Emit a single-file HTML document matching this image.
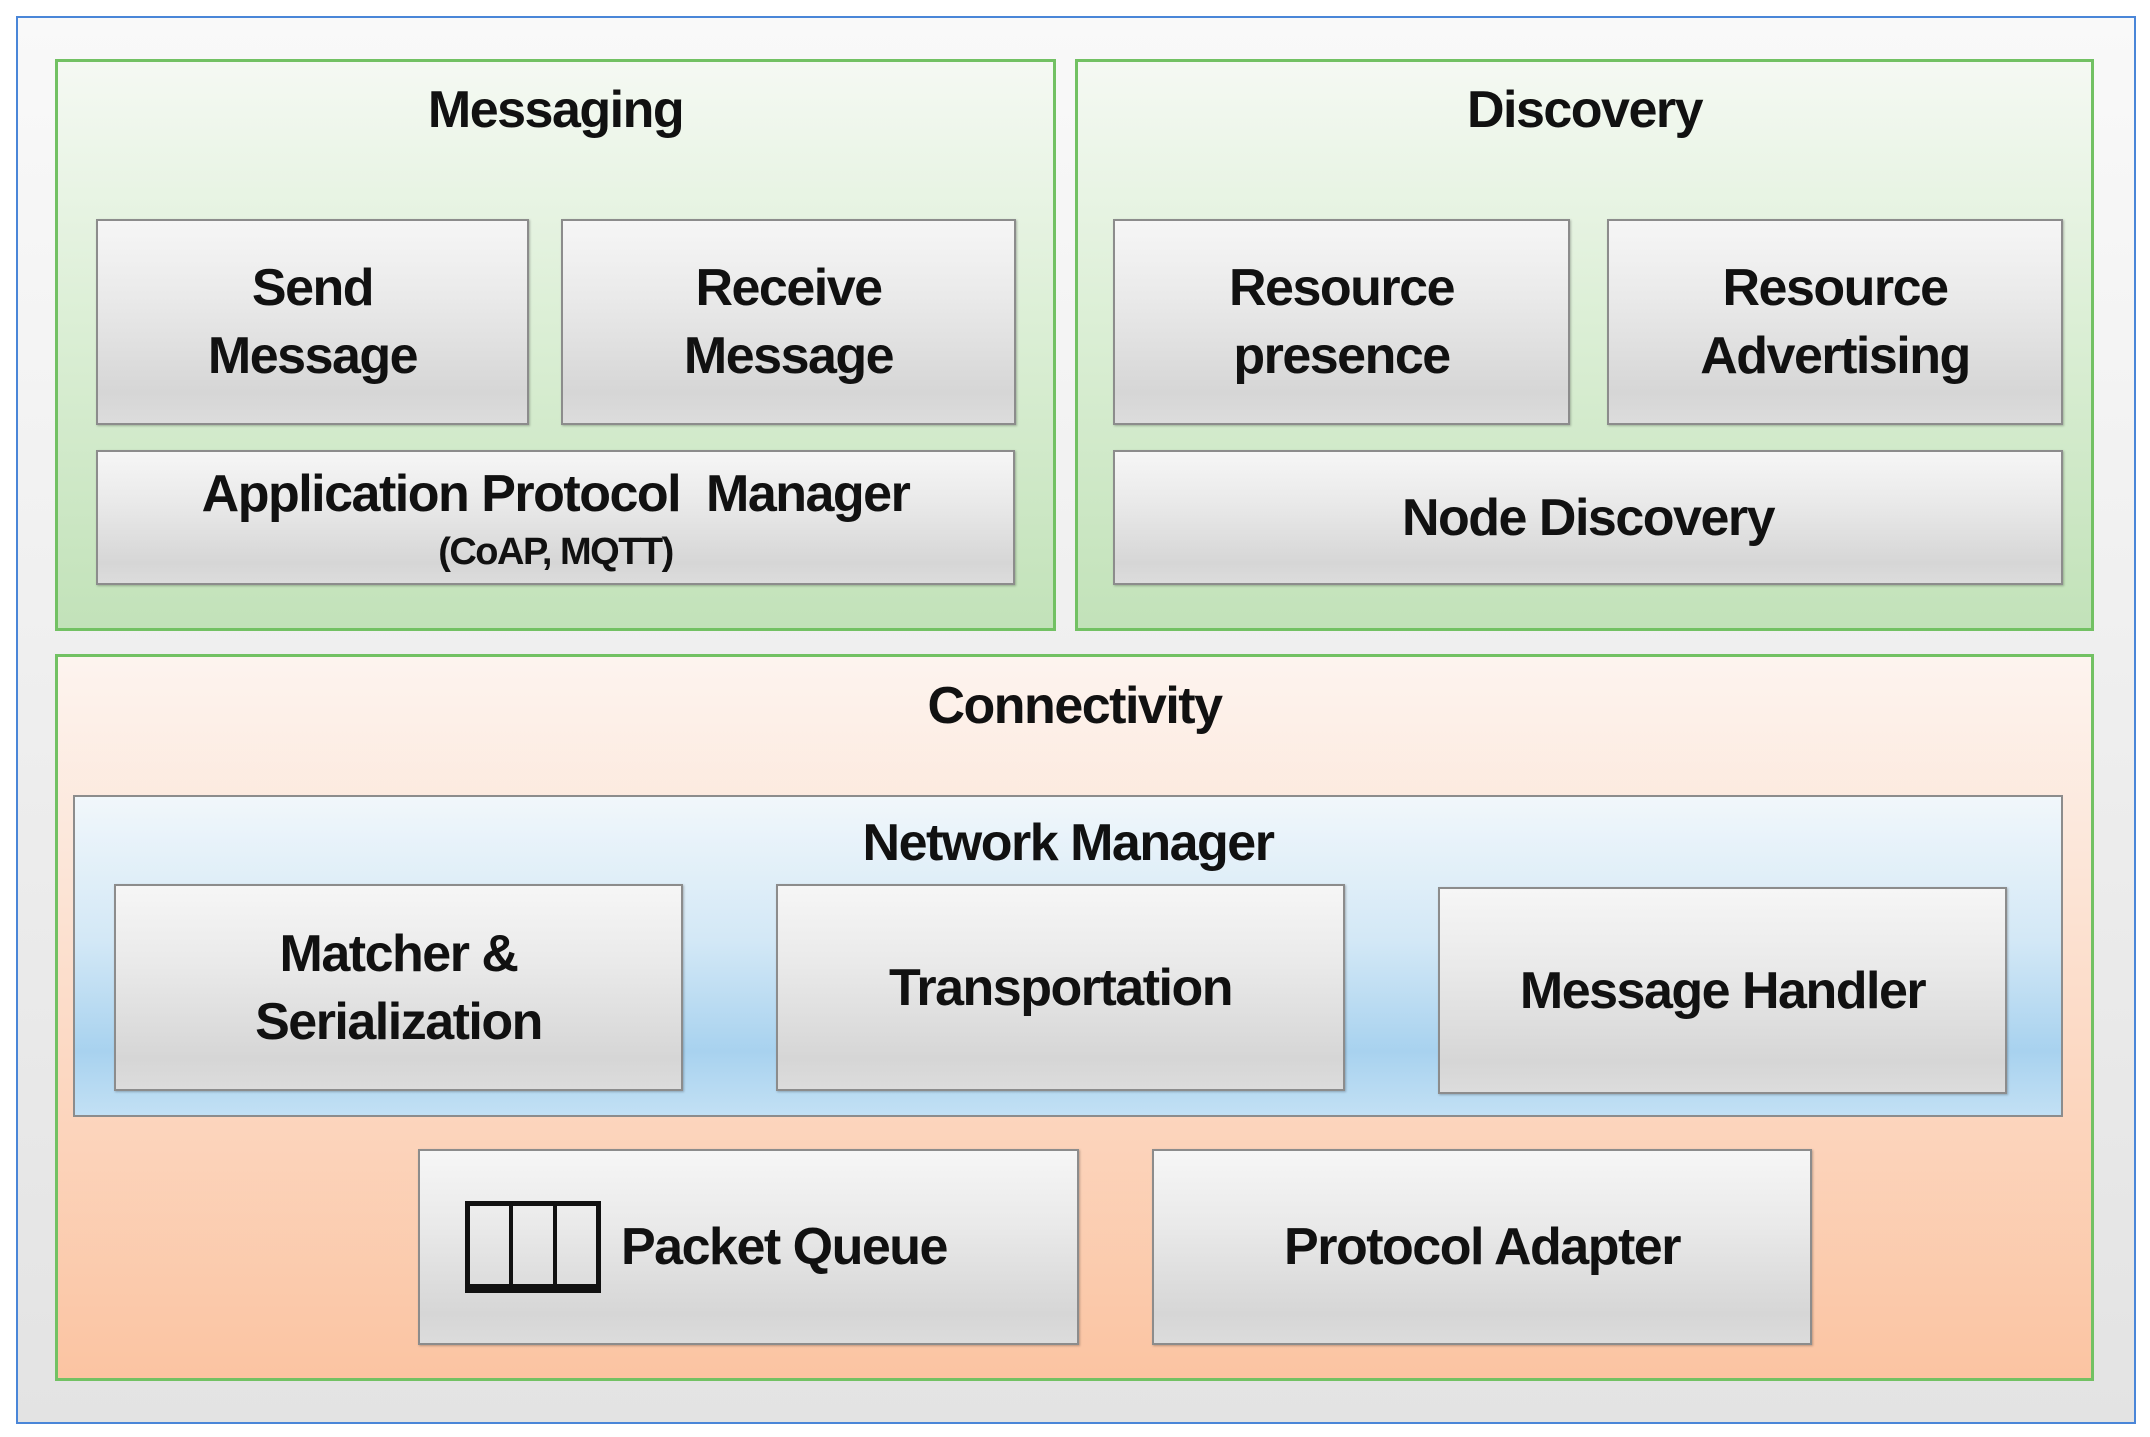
<!DOCTYPE html>
<html><head><meta charset="utf-8"><style>
html,body{margin:0;padding:0;width:2150px;height:1437px;background:#fff;overflow:hidden}
*{box-sizing:border-box}
.a{position:absolute}
.t{font-family:"Liberation Sans Narrow","Liberation Sans",sans-serif;color:#111;font-weight:bold;letter-spacing:-1.5px}
.box{position:absolute;border:2.5px solid #8c8c8c;background:linear-gradient(#f6f6f6,#e9e9e9 40%,#d6d6d6 85%,#dcdcdc);display:flex;align-items:center;justify-content:center;text-align:center;font-family:"Liberation Sans Narrow","Liberation Sans",sans-serif;font-size:52px;line-height:68px;color:#111;font-weight:bold;letter-spacing:-1.5px;box-shadow:1px 1px 2px rgba(0,0,0,.25)}
.green{position:absolute;border:3px solid #72c163;background:linear-gradient(#f5f9f3,#dcefd6 45%,#c2e2b9)}
.title{position:absolute;text-align:center;font-size:52px;line-height:60px}
</style></head><body>
<div class="a" style="left:16px;top:16px;width:2120px;height:1408px;border:2px solid #4a86d8;background:linear-gradient(#f9f9f9,#e3e3e3)"></div>

<div class="green" style="left:55px;top:59px;width:1001px;height:572px"></div>
<div class="title t" style="left:55px;top:80px;width:1001px">Messaging</div>
<div class="box" style="left:96px;top:219px;width:433px;height:206px">Send<br>Message</div>
<div class="box" style="left:561px;top:219px;width:455px;height:206px">Receive<br>Message</div>
<div class="box" style="left:96px;top:450px;width:919px;height:135px;flex-direction:column"><div>Application Protocol&nbsp; Manager</div><div style="font-size:38px;line-height:48px">(CoAP, MQTT)</div></div>

<div class="green" style="left:1075px;top:59px;width:1019px;height:572px"></div>
<div class="title t" style="left:1075px;top:80px;width:1019px">Discovery</div>
<div class="box" style="left:1113px;top:219px;width:457px;height:206px">Resource<br>presence</div>
<div class="box" style="left:1607px;top:219px;width:456px;height:206px">Resource<br>Advertising</div>
<div class="box" style="left:1113px;top:450px;width:950px;height:135px">Node Discovery</div>

<div class="a" style="left:55px;top:654px;width:2039px;height:727px;border:3px solid #72c163;background:linear-gradient(#fdf4ef,#fce0cf 40%,#fbc4a2)"></div>
<div class="title t" style="left:55px;top:676px;width:2039px">Connectivity</div>
<div class="a" style="left:73px;top:795px;width:1990px;height:322px;border:2.5px solid #8c8c8c;background:linear-gradient(#f1f7fb,#d3e8f6 45%,#a8d2ef 80%,#c2e0f4)"></div>
<div class="title t" style="left:73px;top:813px;width:1990px">Network Manager</div>
<div class="box" style="left:114px;top:884px;width:569px;height:207px">Matcher &amp;<br>Serialization</div>
<div class="box" style="left:776px;top:884px;width:569px;height:207px">Transportation</div>
<div class="box" style="left:1438px;top:887px;width:569px;height:207px">Message Handler</div>

<div class="box" style="left:418px;top:1149px;width:661px;height:196px;justify-content:flex-start;padding-left:45px">
<div style="width:136px;height:92px;border:5px solid #111;border-bottom-width:9px;display:flex;margin-right:20px">
<div style="flex:1;border-right:4px solid #111"></div><div style="flex:1;border-right:4px solid #111"></div><div style="flex:1"></div></div>
<span>Packet Queue</span></div>
<div class="box" style="left:1152px;top:1149px;width:660px;height:196px">Protocol Adapter</div>
</body></html>
